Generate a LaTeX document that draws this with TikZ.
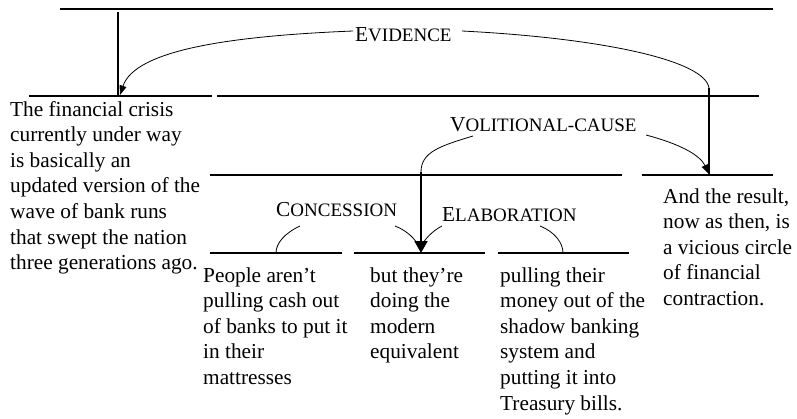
\documentclass[tikz,border=0pt]{standalone}
\usepackage{fontspec}
\setmainfont{Liberation Serif}
\usetikzlibrary{arrows.meta}
\newcommand\rsttext[1]{\vtop{\baselineskip=25.6pt\halign{##\hfil\cr#1\crcr}}}
\newcommand\rstlab[2]{#1{\fontsize{19}{20}\selectfont #2}}
\begin{document}
\begin{tikzpicture}[x=1pt,y=-1pt,
  span/.style={line width=1.8pt},
  rel/.style={line width=0.8pt},
  txt/.style={anchor=base west, inner sep=0pt, font=\fontsize{21.3}{25.6}\selectfont},
  smallarr/.style={-{Triangle[length=9.5pt,width=7pt]}},
  bigarr/.style={-{Triangle[length=12pt,width=13pt]}}]
\useasboundingbox (0,0) rectangle (797,418);

% span lines (coordinates)
\coordinate (topL) at (60,9);    \coordinate (topR) at (773,9);
\coordinate (sAL) at (29,96);    \coordinate (sAR) at (212,96);
\coordinate (sBL) at (217,96);   \coordinate (sBR) at (759,96);
\coordinate (sCL) at (210,175);  \coordinate (sCR) at (622,175);
\coordinate (sDL) at (642,175);  \coordinate (sDR) at (773,175);
\coordinate (e1L) at (210,253);  \coordinate (e1R) at (342,253);
\coordinate (e2L) at (354,253);  \coordinate (e2R) at (485,253);
\coordinate (e3L) at (498,253);  \coordinate (e3R) at (629,253);

\draw[span] (topL) -- (topR);
\draw[span] (sAL) -- (sAR);
\draw[span] (sBL) -- (sBR);
\draw[span] (sCL) -- (sCR);
\draw[span] (sDL) -- (sDR);
\draw[span] (e1L) -- (e1R);
\draw[span] (e2L) -- (e2R);
\draw[span] (e3L) -- (e3R);

% nucleus verticals
\coordinate (vA1) at (118,12);   \coordinate (vA2) at (118,96);
\coordinate (vB1) at (709,88);   \coordinate (vB2) at (709,175);
\coordinate (vC1) at (421,172);  \coordinate (vC2) at (421,253);
\draw[span] (vA1) -- (vA2);
\draw[span] (vB1) -- (vB2);
\draw[span,bigarr] (vC1) -- (vC2);

% relation labels
\node[txt] (ev) at (355,41.7) {\rstlab{E}{VIDENCE}};
\node[txt] (vc) at (450,131) {\rstlab{V}{OLITIONAL-CAUSE}};
\node[txt] (co) at (276,216.5) {\rstlab{C}{ONCESSION}};
\node[txt] (el) at (442,221) {\rstlab{E}{LABORATION}};

% arc end points
\coordinate (evL) at (353,31);  \coordinate (evR) at (462,31);
\coordinate (evT) at (120,95);
\coordinate (vcL) at (473,136); \coordinate (vcR) at (646,135);
\coordinate (vcT) at (709,174);
\coordinate (coL) at (300,226); \coordinate (coR) at (395,226);
\coordinate (elL) at (442,226); \coordinate (elR) at (540,226);
\coordinate (coE) at (276,253); \coordinate (elE) at (563,253);
\coordinate (mid) at (420,248);

\draw[rel,smallarr] (evL) .. controls (230,36) and (135,50) .. (evT);
\draw[rel] (evR) .. controls (600,38) and (705,60) .. (vB1);
\draw[rel] (vcL) .. controls (440,146) and (421,152) .. (vC1);
\draw[rel,smallarr] (vcR) .. controls (680,144) and (700,155) .. (vcT);
\draw[rel] (coL) .. controls (285,233) and (276,243) .. (coE);
\draw[rel] (coR) .. controls (408,231) and (416,240) .. (mid);
\draw[rel] (elL) .. controls (432,231) and (424,240) .. (mid);
\draw[rel] (elR) .. controls (555,232) and (563,243) .. (elE);

% texts
\node[txt] (u1) at (10,116) {\rsttext{The financial crisis\cr currently under way\cr is basically an\cr updated version of the\cr wave of bank runs\cr that swept the nation\cr three generations ago.}};
\node[txt] (u2) at (203,282) {\rsttext{People aren’t\cr pulling cash out\cr of banks to put it\cr in their\cr mattresses}};
\node[txt] (u3) at (370,282) {\rsttext{but they’re\cr doing the\cr modern\cr equivalent}};
\node[txt] (u4) at (500,282) {\rsttext{pulling their\cr money out of the\cr shadow banking\cr system and\cr putting it into\cr Treasury bills.}};
\node[txt] (u5) at (663,203) {\rsttext{And the result,\cr now as then, is\cr a vicious circle\cr of financial\cr contraction.}};
\end{tikzpicture}
\end{document}
